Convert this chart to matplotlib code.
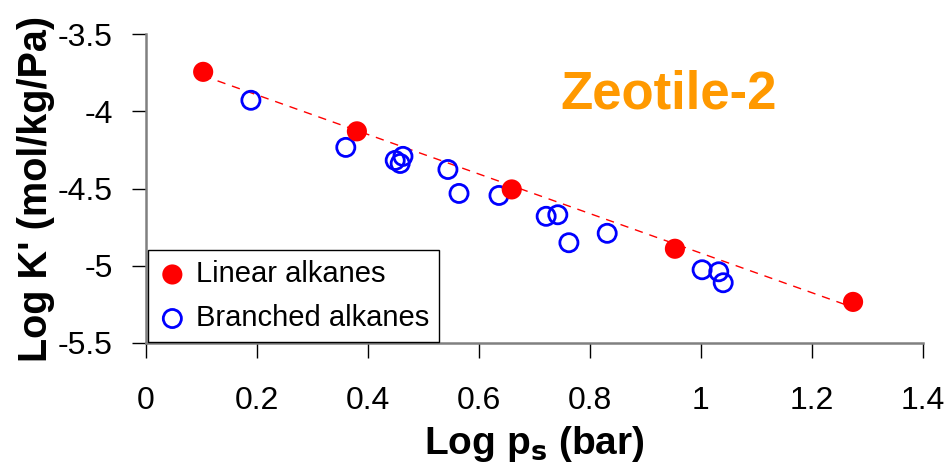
import numpy as np
import matplotlib
matplotlib.use('Agg')
from matplotlib import pyplot as plt

plt.rcParams['font.family'] = ['Liberation Sans', 'DejaVu Sans']

# Линейные алканы
linear_x = [0.103, 0.380, 0.659, 0.953, 1.274]
linear_y = [-3.745, -4.130, -4.506, -4.890, -5.234]

# Разветвлённые алканы
branched_x = [0.189, 0.360, 0.449, 0.458, 0.463, 0.544, 0.564, 0.636,
              0.721, 0.742, 0.762, 0.831, 1.002, 1.032, 1.040]
branched_y = [-3.929, -4.234, -4.318, -4.338, -4.292, -4.377, -4.532, -4.545,
              -4.680, -4.670, -4.851, -4.790, -5.026, -5.039, -5.110]

x_ticks = [0, 0.2, 0.4, 0.6, 0.8, 1.0, 1.2, 1.4]
x_tick_labels = ['0', '0.2', '0.4', '0.6', '0.8', '1', '1.2', '1.4']
y_ticks = [-5.5, -5, -4.5, -4, -3.5]
y_tick_labels = ['-5.5', '-5', '-4.5', '-4', '-3.5']

fig = plt.figure(figsize=(9.49, 4.74), dpi=100)
ax = fig.add_axes([146 / 949, 1 - 343 / 474, 777 / 949, 309 / 474])

# Линия тренда по линейным алканам
k, b = np.polyfit(linear_x, linear_y, 1)
fit_x = np.array([min(linear_x), max(linear_x)])
ax.plot(fit_x, k * fit_x + b, color='red', linestyle=(0, (6, 5)), linewidth=1, zorder=1)

ax.scatter(linear_x, linear_y, s=210, color='red', edgecolors='none',
           label='Linear alkanes', zorder=3)
ax.scatter(branched_x, branched_y, s=170, facecolors='none', edgecolors='blue',
           linewidths=2, label='Branched alkanes', zorder=2)

ax.set_xlim(0, 1.4)
ax.set_ylim(-5.5, -3.5)
ax.set_xticks(x_ticks)
ax.set_xticklabels(x_tick_labels)
ax.set_yticks(y_ticks)
ax.set_yticklabels(y_tick_labels)
ax.tick_params(axis='x', direction='out', length=11, width=1, pad=20, labelsize=23)
ax.tick_params(axis='y', direction='out', length=10, width=1, pad=14, labelsize=23)

for side in ['top', 'right']:
    ax.spines[side].set_visible(False)
for side in ['left', 'bottom']:
    ax.spines[side].set_color('#808080')
    ax.spines[side].set_linewidth(1.8)

ax.set_xlabel('Log p$_\\mathbf{s}$ (bar)', fontsize=28, fontweight='bold')
ax.xaxis.set_label_coords(0.5, -0.262)
ax.set_ylabel("Log K' (mol/kg/Pa)", fontsize=28.5, fontweight='bold')
ax.yaxis.set_label_coords(-0.117, 0.5)

ax.text(0.672, 0.803, 'Zeotile-2', transform=ax.transAxes, fontsize=38,
        fontweight='bold', color='#FF9900', ha='center', va='center')

leg = ax.legend(loc='lower left', bbox_to_anchor=(0.002, 0.002), fontsize=21,
                frameon=True, fancybox=False, edgecolor='black', framealpha=1,
                handletextpad=0.3, borderpad=0.35, labelspacing=0.55,
                handlelength=1.0, borderaxespad=0)
leg.get_frame().set_linewidth(1)

fig.savefig('out.png', dpi=100)
